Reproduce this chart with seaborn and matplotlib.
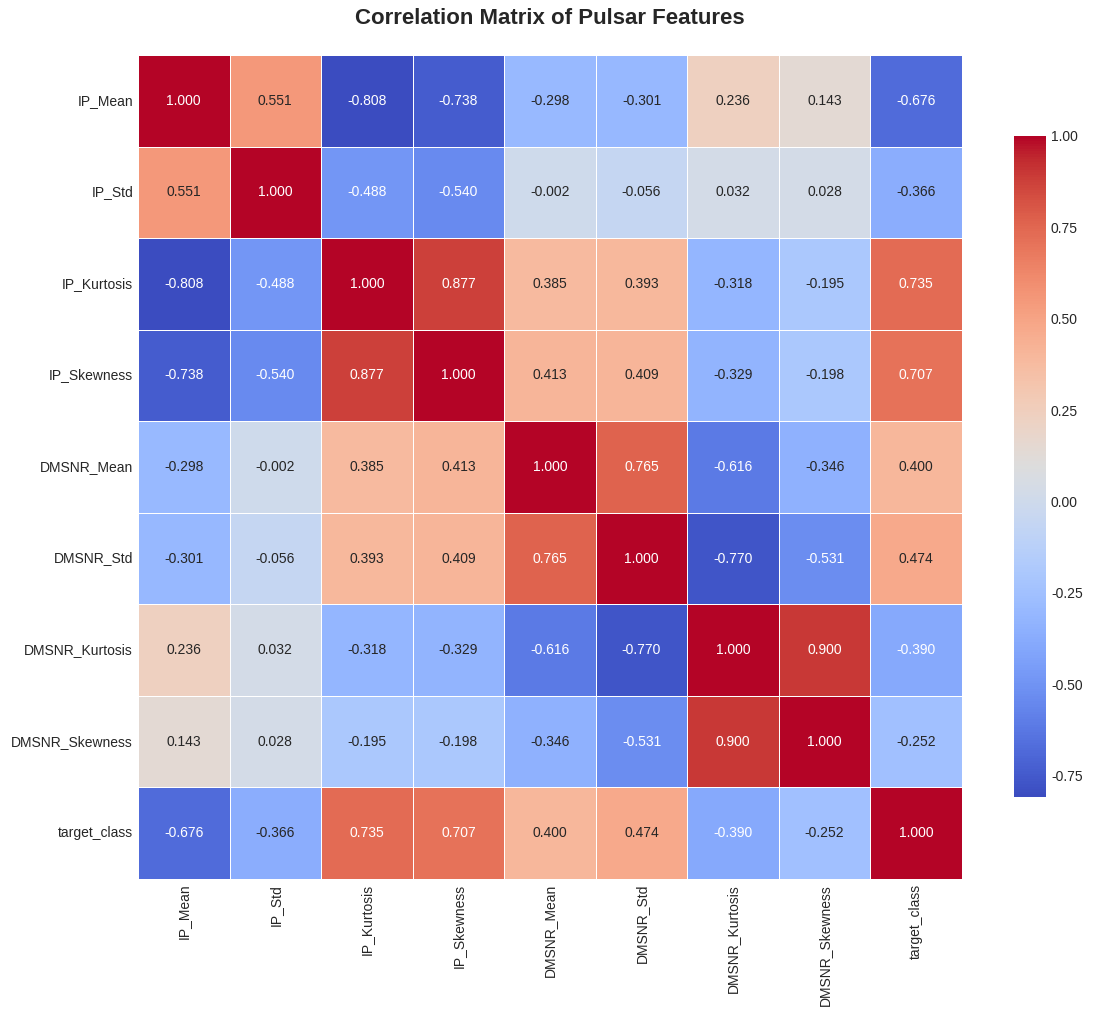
import numpy as np
import pandas as pd
import seaborn as sns
import matplotlib.pyplot as plt

# feature names
features = ["IP_Mean", "IP_Std", "IP_Kurtosis", "IP_Skewness", "DMSNR_Mean",
            "DMSNR_Std", "DMSNR_Kurtosis", "DMSNR_Skewness", "target_class"]

# correlation rows
ip_mean = [1.000, 0.551, -0.808, -0.738, -0.298, -0.301, 0.236, 0.143, -0.676]
ip_std = [0.551, 1.000, -0.488, -0.540, -0.002, -0.056, 0.032, 0.028, -0.366]
ip_kurt = [-0.808, -0.488, 1.000, 0.877, 0.385, 0.393, -0.318, -0.195, 0.735]
ip_skew = [-0.738, -0.540, 0.877, 1.000, 0.413, 0.409, -0.329, -0.198, 0.707]
dm_mean = [-0.298, -0.002, 0.385, 0.413, 1.000, 0.765, -0.616, -0.346, 0.400]
dm_std = [-0.301, -0.056, 0.393, 0.409, 0.765, 1.000, -0.770, -0.531, 0.474]
dm_kurt = [0.236, 0.032, -0.318, -0.329, -0.616, -0.770, 1.000, 0.900, -0.390]
dm_skew = [0.143, 0.028, -0.195, -0.198, -0.346, -0.531, 0.900, 1.000, -0.252]
target = [-0.676, -0.366, 0.735, 0.707, 0.400, 0.474, -0.390, -0.252, 1.000]

corr = pd.DataFrame([ip_mean, ip_std, ip_kurt, ip_skew, dm_mean, dm_std,
                     dm_kurt, dm_skew, target], index=features, columns=features)

sns.set_style("whitegrid")
plt.rcParams['font.family'] = ['Liberation Sans', 'DejaVu Sans']

fig = plt.figure(figsize=(10.94, 10.16), dpi=100)
ax = fig.add_axes([0.1261, 0.1339, 0.7532, 0.813])
cax = fig.add_axes([0.9269, 0.2156, 0.0293, 0.6506])

sns.heatmap(corr, ax=ax, cbar_ax=cax, annot=True, fmt=".3f", cmap="coolwarm",
            square=True, linewidths=0.5, linecolor="white",
            annot_kws={"size": 10})

ax.set_title("Correlation Matrix of Pulsar Features", fontsize=16,
             fontweight="bold", pad=22)
ax.tick_params(axis="both", labelsize=10, length=0)
plt.setp(ax.get_xticklabels(), rotation=90)
plt.setp(ax.get_yticklabels(), rotation=0)
cax.tick_params(labelsize=10, length=0)
cax.set_yticks([-0.75, -0.5, -0.25, 0, 0.25, 0.5, 0.75, 1.0])
cax.set_yticklabels(["-0.75", "-0.50", "-0.25", "0.00", "0.25", "0.50", "0.75", "1.00"])
for s in cax.spines.values():
    s.set_visible(False)

fig.savefig("out.png", dpi=100, facecolor="white")
